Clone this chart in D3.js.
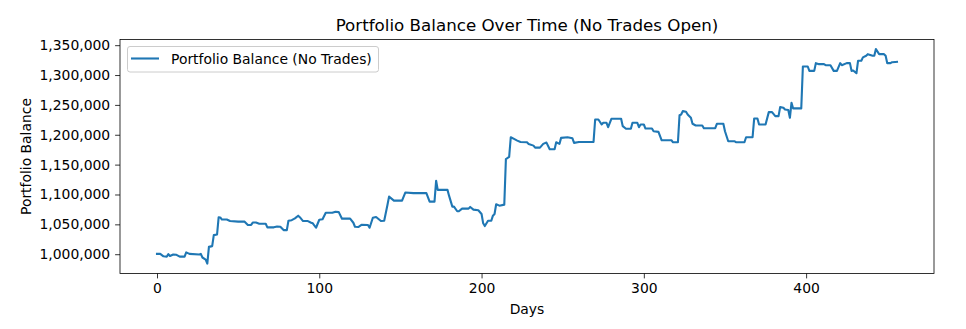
<!DOCTYPE html>
<html>
<head>
<meta charset="utf-8">
<script src="https://cdn.jsdelivr.net/npm/d3@7"></script>
<style>
  html, body { margin: 0; padding: 0; background: #fff; }
  svg { display: block; font-family: "DejaVu Sans", sans-serif; }
</style>
</head>
<body>
<svg id="chart" width="966" height="329"></svg>
<script>
const days = [0,2,4,6,7,8,10,12,14,17,18,20,26,27,28,30,31,32,34,35,37,38,39,40,43,45,50,54,56,58,59,61,63,67,68,72,74,76,78,80,81,83,85,87,88,90,93,95,96,98,100,102,104,108,110,112,114,119,121,122,124,126,130,131,133,135,138,140,142,143,146,151,153,158,166,168,171,172,173,179,180,182,183,185,186,188,192,193,195,198,200,201,202,204,206,207,208,209,211,214,215,217,218,220,222,224,228,229,232,233,236,238,240,242,245,246,248,249,253,256,257,260,269,270,272,274,275,277,278,280,286,287,289,292,293,296,297,298,300,301,305,306,309,311,317,318,321,322,323,324,326,327,329,330,332,336,337,344,345,349,350,352,356,357,362,363,367,368,370,371,375,377,379,381,383,384,386,387,389,390,391,392,397,398,401,402,405,406,408,411,412,415,417,419,421,422,425,427,428,429,431,432,434,435,437,438,441,442,443,445,448,449,450,452,453,456];
const balance = [1000500,1000500,996500,996000,1000000,997000,999500,999000,996000,996000,1003000,1000500,999500,1000500,994500,991000,984300,1012300,1013500,1032000,1033000,1062000,1061500,1058000,1058000,1055500,1054500,1054500,1049000,1049000,1053000,1053000,1051000,1051000,1045000,1045000,1046500,1046000,1040400,1040400,1056000,1057000,1060000,1064500,1062000,1055500,1055500,1052700,1051700,1044300,1057700,1058400,1069500,1069500,1071200,1070500,1059500,1059500,1052700,1046000,1045500,1049300,1049000,1044300,1061100,1062300,1055500,1056000,1082500,1096500,1089700,1089700,1103200,1102200,1102200,1088000,1088000,1122900,1107700,1107700,1097600,1079600,1079600,1071900,1071900,1076300,1076300,1079100,1074600,1073600,1067300,1051700,1047100,1056100,1056100,1064500,1067300,1083700,1081300,1083000,1159300,1162800,1195800,1193000,1190200,1188000,1187400,1184700,1181800,1178400,1178400,1184700,1186900,1175700,1175700,1187400,1184700,1194800,1195800,1194100,1186400,1188000,1188000,1225600,1225600,1217200,1220000,1220000,1212700,1226800,1226800,1214400,1210000,1210000,1220000,1220000,1212700,1217200,1217200,1210400,1210400,1205900,1204900,1190800,1190800,1187400,1187400,1232800,1234000,1239600,1238500,1234000,1228400,1218400,1215500,1215500,1211000,1211000,1218400,1218400,1205900,1189100,1189100,1187400,1187400,1195800,1195800,1227300,1227300,1217200,1217200,1237900,1237900,1231200,1231200,1246300,1245300,1242400,1241500,1228400,1253700,1244100,1244100,1314300,1314300,1307000,1307000,1319900,1318200,1318200,1316500,1316500,1307000,1307000,1319900,1316500,1319900,1319900,1307000,1307500,1303000,1323900,1323900,1329600,1332300,1335000,1332300,1332300,1343400,1335000,1335000,1332300,1319900,1319900,1321500,1322100];
const xTicks = [0, 100, 200, 300, 400];
const yTicks = [1000000, 1050000, 1100000, 1150000, 1200000, 1250000, 1300000, 1350000];
const titleText = "Portfolio Balance Over Time (No Trades Open)";
const xLabel = "Days";
const yLabel = "Portfolio Balance";
const seriesName = "Portfolio Balance (No Trades)";

const svg = d3.select("#chart");
const L = 120, R = 934, T = 39.5, B = 273.5;
const color = "#1f77b4";

const xExt = d3.extent(days);
const xPad = (xExt[1] - xExt[0]) * 0.05;
const x = d3.scaleLinear().domain([xExt[0] - xPad, xExt[1] + xPad]).range([L, R]);
const y = d3.scaleLinear().domain([967700, 1359500]).range([B, T]);

const fmt = d3.format(",");

// x axis
const gx = svg.append("g").attr("transform", `translate(0,${B})`)
  .call(d3.axisBottom(x).tickValues(xTicks).tickFormat(d3.format("d")).tickSize(4.9).tickPadding(4.9));
// y axis
const gy = svg.append("g").attr("transform", `translate(${L},0)`)
  .call(d3.axisLeft(y).tickValues(yTicks).tickFormat(fmt).tickSize(4.9).tickPadding(4.9));
[gx, gy].forEach(g => {
  g.select(".domain").remove();
  g.selectAll(".tick line").attr("stroke", "#000").attr("stroke-width", 0.8);
  g.selectAll(".tick text").attr("fill", "#000").attr("font-size", "13.9px").attr("font-family", "DejaVu Sans, sans-serif");
});

// line
const line = d3.line().x((d, i) => x(days[i])).y(d => y(d));
svg.append("path").datum(balance)
  .attr("d", line)
  .attr("fill", "none")
  .attr("stroke", color)
  .attr("stroke-width", 2.1)
  .attr("stroke-linejoin", "round")
  .attr("stroke-linecap", "square");

// frame
svg.append("rect").attr("x", L).attr("y", T).attr("width", R - L).attr("height", B - T)
  .attr("fill", "none").attr("stroke", "#000").attr("stroke-width", 0.8);

// title
svg.append("text").attr("x", (L + R) / 2).attr("y", 30.5).attr("text-anchor", "middle")
  .attr("font-size", "16.7px").attr("fill", "#000").text(titleText);
// x label
svg.append("text").attr("x", (L + R) / 2).attr("y", 314).attr("text-anchor", "middle")
  .attr("font-size", "13.9px").attr("fill", "#000").text(xLabel);
// y label
svg.append("text").attr("transform", `translate(31,${(T + B) / 2}) rotate(-90)`)
  .attr("text-anchor", "middle").attr("font-size", "13.9px").attr("fill", "#000").text(yLabel);

// legend
const lg = svg.append("g");
lg.append("rect").attr("x", 127.5).attr("y", 46.5).attr("width", 251).attr("height", 25.5)
  .attr("rx", 2.5).attr("fill", "#fff").attr("fill-opacity", 0.8)
  .attr("stroke", "#cccccc").attr("stroke-width", 1);
lg.append("line").attr("x1", 131).attr("x2", 159).attr("y1", 58.5).attr("y2", 58.5)
  .attr("stroke", color).attr("stroke-width", 2.1);
lg.append("text").attr("x", 171).attr("y", 63.5).attr("font-size", "13.9px").attr("fill", "#000").text(seriesName);
</script>
</body>
</html>
